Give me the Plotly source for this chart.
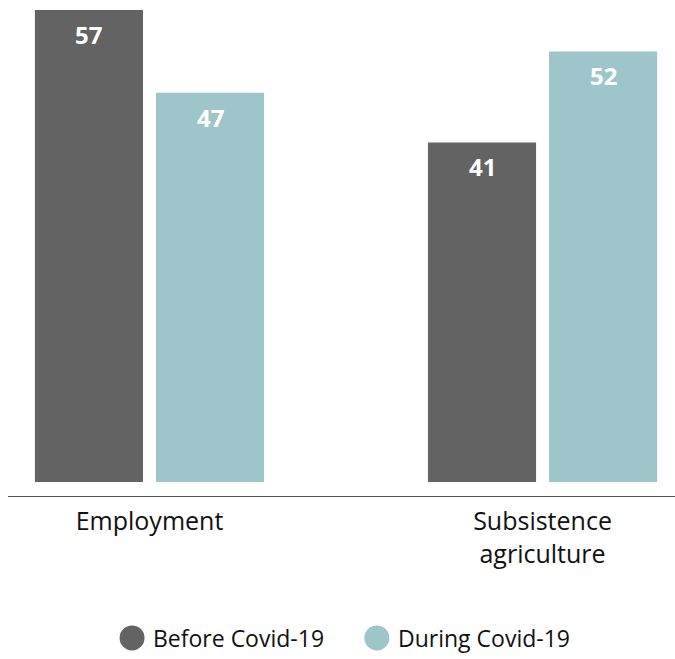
import plotly.graph_objects as go

# ---- data ----
categories = ["Employment", "Subsistence<br>agriculture"]
before_covid = [57, 41]
during_covid = [47, 52]
series_names = ["Before Covid-19", "During Covid-19"]
series_colors = ["#636363", "#9EC6CA"]

FONT = "Open Sans"
TEXT_COLOR = "#111111"
bargap = 0.384
bargroupgap = 0.107

fig = go.Figure()
series_values = [before_covid, during_covid]
for name, vals, col in zip(series_names, series_values, series_colors):
    fig.add_trace(go.Bar(
        x=categories, y=vals, name=name,
        marker=dict(color=col, line=dict(width=0)),
        showlegend=False, hoverinfo="x+y+name",
    ))

# value labels inside top of bars
slot = (1 - bargap) / len(series_values)
for j, vals in enumerate(series_values):
    offset = (j - (len(series_values) - 1) / 2) * slot
    for i, v in enumerate(vals):
        fig.add_annotation(
            x=i + offset, y=v, xref="x", yref="y",
            text=f"<b>{v}</b>", showarrow=False,
            yanchor="top", yshift=-6,
            font=dict(family=FONT, size=24, color="white"),
        )

# manual legend with circle markers
legend_pos = [(0.186, 0.2144), (0.553, 0.5817)]
legend_y = -0.292
for (cx, tx), name, col in zip(legend_pos, series_names, series_colors):
    fig.add_shape(type="circle", xref="paper", yref="paper",
                  xsizemode="pixel", ysizemode="pixel",
                  xanchor=cx, yanchor=legend_y,
                  x0=-12.5, x1=12.5, y0=-12.5, y1=12.5,
                  fillcolor=col, line=dict(width=0))
    fig.add_annotation(x=tx, y=legend_y, xref="paper", yref="paper",
                       text=name, showarrow=False, xanchor="left", yanchor="middle",
                       font=dict(family=FONT, size=23, color=TEXT_COLOR))

fig.update_layout(
    width=675, height=659,
    margin=dict(l=8, r=0, t=10, b=163),
    paper_bgcolor="white", plot_bgcolor="white",
    barmode="group", bargap=bargap, bargroupgap=bargroupgap,
    font=dict(family=FONT, color=TEXT_COLOR),
    xaxis=dict(range=[-0.36, 1.337], showline=True, linecolor="#555555", linewidth=1.2,
               ticks="", showgrid=False, zeroline=False, ticklabelstandoff=3,
               tickfont=dict(family=FONT, size=25, color=TEXT_COLOR)),
    yaxis=dict(range=[-1.69, 57], visible=False, showgrid=False, zeroline=False),
)

fig.write_html("out.html", config={"displayModeBar": False},
               post_script="document.body.style.margin='0';document.body.style.overflow='hidden';")
